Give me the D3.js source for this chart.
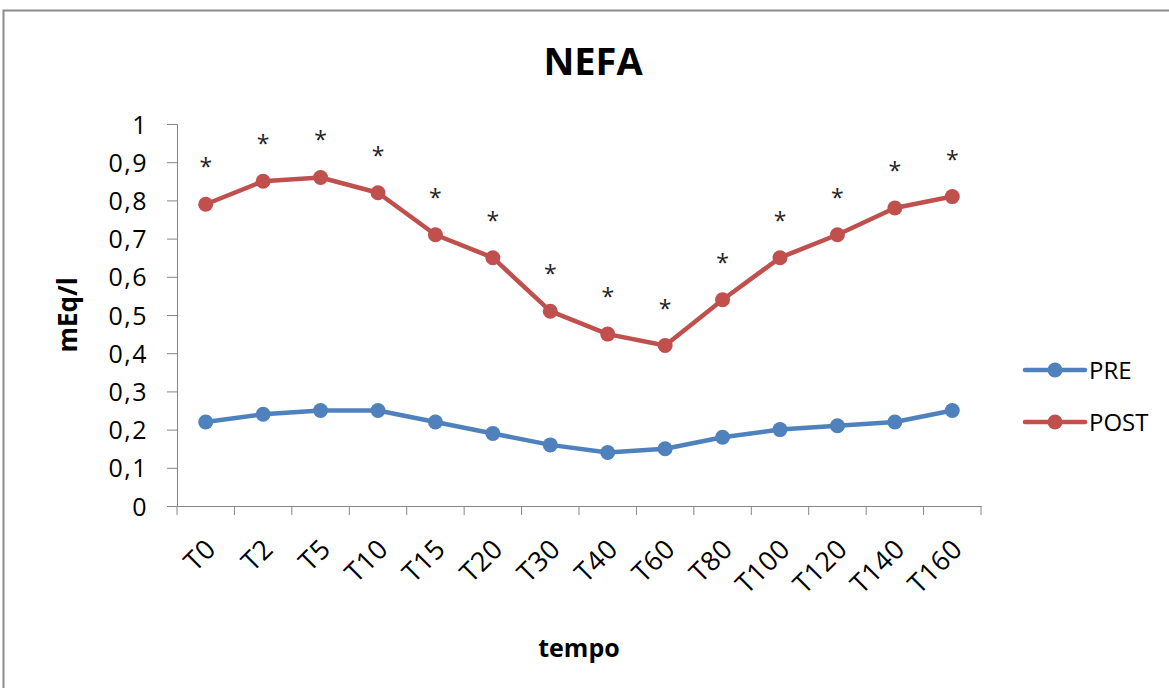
<!DOCTYPE html>
<html><head><meta charset="utf-8">
<script src="https://cdn.jsdelivr.net/npm/d3@7/dist/d3.min.js"></script>
<style>body{margin:0;background:#fff}svg{display:block}text{font-family:"Open Sans",Lato,sans-serif}</style>
</head><body><svg id="c" width="1169" height="688"></svg>
<script>
const categories = ["T0","T2","T5","T10","T15","T20","T30","T40","T60","T80","T100","T120","T140","T160"];
const preValues  = [0.22,0.24,0.25,0.25,0.22,0.19,0.16,0.14,0.15,0.18,0.20,0.21,0.22,0.25];
const postValues = [0.79,0.85,0.86,0.82,0.71,0.65,0.51,0.45,0.42,0.54,0.65,0.71,0.78,0.81];
const significant = [true,true,true,true,true,true,true,true,true,true,true,true,true,true];
const yTicks = [0,0.1,0.2,0.3,0.4,0.5,0.6,0.7,0.8,0.9,1];
const seriesNames = ["PRE","POST"];
const colors = ["#4F81BD","#C0504D"];

const svg = d3.select("#c");
svg.append("rect").attr("x",0).attr("y",0).attr("width",1169).attr("height",688).attr("fill","#fff");
svg.append("path").attr("d","M3.5,700 V10.5 H1175").attr("fill","none").attr("stroke","#8c8c8c").attr("stroke-width",2);

const L=177, R=981, T=124, B=506;
const x = d3.scaleBand().domain(categories).range([L,R]);
const y = d3.scaleLinear().domain([0,1]).range([B,T]);

// y axis
const ya = svg.append("g").attr("transform",`translate(${L},0)`)
  .call(d3.axisLeft(y).tickValues(yTicks).tickSize(10).tickPadding(19).tickFormat(d=>d3.format(".1f")(d).replace(".",",").replace(/^0,0$/,"0").replace(/^1,0$/,"1")));
ya.select(".domain").attr("stroke","#868686");
ya.selectAll(".tick line").attr("stroke","#868686");
ya.selectAll(".tick text").attr("font-size",25).attr("fill","#000").attr("dy","0.36em").attr("letter-spacing",1.5);

// x axis
const xa = svg.append("g").attr("transform",`translate(0,${B})`)
  .call(d3.axisBottom(x).tickSize(0).tickFormat(""));
xa.select(".domain").attr("stroke","#868686");
xa.selectAll(".tick").remove();
const bounds = categories.map(c=>x(c)).concat([R]);
svg.append("g").selectAll("line").data(bounds).join("line")
  .attr("x1",d=>d).attr("x2",d=>d).attr("y1",B).attr("y2",B+9).attr("stroke","#868686");
svg.append("g").selectAll("text").data(categories).join("text")
  .attr("transform",d=>`translate(${x(d)+x.bandwidth()/2+5},${B+38}) rotate(-45)`)
  .attr("text-anchor","end").attr("font-size",27).attr("dy","0.35em").attr("letter-spacing",0.5).text(d=>d);

const line = d3.line().x((d,i)=>x(categories[i])+x.bandwidth()/2).y(d=>y(d));
[preValues,postValues].forEach((vals,s)=>{
  svg.append("path").datum(vals).attr("d",line).attr("fill","none").attr("stroke",colors[s]).attr("stroke-width",4.5).attr("stroke-linejoin","round");
  svg.append("g").selectAll("circle").data(vals).join("circle")
    .attr("cx",(d,i)=>x(categories[i])+x.bandwidth()/2).attr("cy",d=>y(d)).attr("r",7.5).attr("fill",colors[s]);
});

// asterisks
svg.append("g").selectAll("text").data(postValues.map((v,i)=>({v,i})).filter(d=>significant[d.i])).join("text")
  .attr("x",d=>x(categories[d.i])+x.bandwidth()/2).attr("y",d=>y(d.v)-29)
  .attr("text-anchor","middle").attr("font-size",23).attr("fill","#222").text("*");

// titles
svg.append("text").attr("x",593).attr("y",75).attr("text-anchor","middle").attr("font-size",38).attr("font-weight","bold").text("NEFA");
svg.append("text").attr("transform","translate(77,315) rotate(-90)").attr("text-anchor","middle").attr("font-size",26).attr("font-weight","bold").text("mEq/l");
svg.append("text").attr("x",579).attr("y",657).attr("text-anchor","middle").attr("font-size",25).attr("font-weight","bold").text("tempo");

// legend
const lg = svg.append("g").selectAll("g").data(seriesNames).join("g").attr("transform",(d,i)=>`translate(1025,${370+i*52})`);
lg.append("line").attr("x1",0).attr("x2",60).attr("stroke",(d,i)=>colors[i]).attr("stroke-width",4.5).attr("stroke-linecap","round");
lg.append("circle").attr("cx",30).attr("r",7.5).attr("fill",(d,i)=>colors[i]);
lg.append("text").attr("x",64).attr("dy","0.36em").attr("font-size",24).text(d=>d);
</script></body></html>
